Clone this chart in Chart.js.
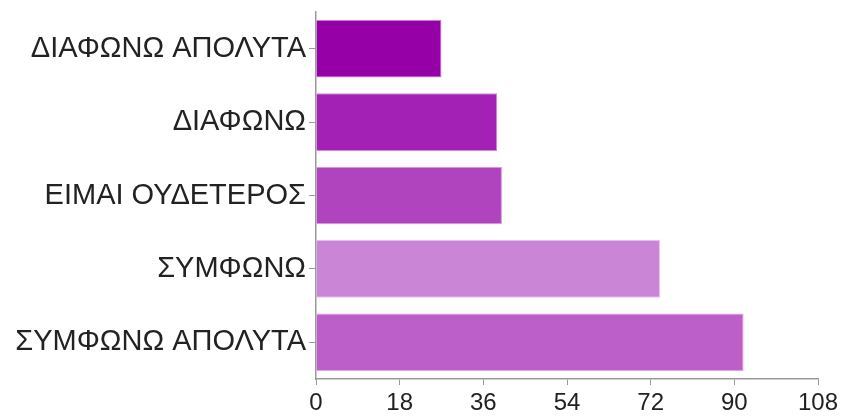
<!DOCTYPE html>
<html>
<head>
<meta charset="utf-8">
<script src="https://cdn.jsdelivr.net/npm/chart.js@4/dist/chart.umd.min.js"></script>
<style>
  html, body { margin: 0; padding: 0; background: #fff; }
  #wrap { width: 844px; height: 417px; }
</style>
</head>
<body>
<div id="wrap"><canvas id="chart"></canvas></div>
<script>
// ── data ──
const categories = ['ΔΙΑΦΩΝΩ ΑΠΟΛΥΤΑ', 'ΔΙΑΦΩΝΩ', 'ΕΙΜΑΙ ΟΥΔΕΤΕΡΟΣ', 'ΣΥΜΦΩΝΩ', 'ΣΥΜΦΩΝΩ ΑΠΟΛΥΤΑ'];
const counts     = [27, 39, 40, 74, 92];
const barColors  = ['#9500a7', '#a322b5', '#b044bf', '#cb85d6', '#bd5fc8'];
const edgeColors = ['#c77fd2', '#cd8ad8', '#d59ade', '#e4c0ea', '#dca9e4'];
const xMax = 108, xStep = 18;

const FONT_X = { family: '"Liberation Sans", Arial, sans-serif', size: 24 };
const FONT_Y = { family: '"Liberation Sans", Arial, sans-serif', size: 29 };
const AXIS = '#9a9a9a';

new Chart(document.getElementById('chart'), {
  type: 'bar',
  data: {
    labels: categories,
    datasets: [{
      data: counts,
      backgroundColor: barColors,
      borderColor: edgeColors,
      borderWidth: 1,
      borderSkipped: 'left',
      categoryPercentage: 0.785,
      barPercentage: 1.0,
    }]
  },
  options: {
    indexAxis: 'y',
    responsive: true, maintainAspectRatio: false,
    animation: false,
    layout: { padding: { top: 12, right: 26, left: 0, bottom: 0 } },
    plugins: { legend: { display: false }, tooltip: { enabled: false } },
    scales: {
      x: {
        min: 0, max: xMax,
        afterFit: s => { s.height = 38; s.paddingLeft = 0; },
        ticks: { stepSize: xStep, color: '#222', font: FONT_X, padding: 4 },
        grid: { drawOnChartArea: false, drawTicks: true, tickLength: 6, color: AXIS },
        border: { display: true, color: AXIS, width: 1.5 }
      },
      y: {
        afterFit: s => { s.width = 316; s.paddingTop = 0; s.paddingBottom = 0; },
        ticks: { color: '#222', font: FONT_Y, padding: 3 },
        grid: { drawOnChartArea: false, drawTicks: true, tickLength: 7, color: AXIS, offset: false },
        border: { display: true, color: AXIS, width: 1.5 }
      }
    }
  }
});
</script>
</body>
</html>
